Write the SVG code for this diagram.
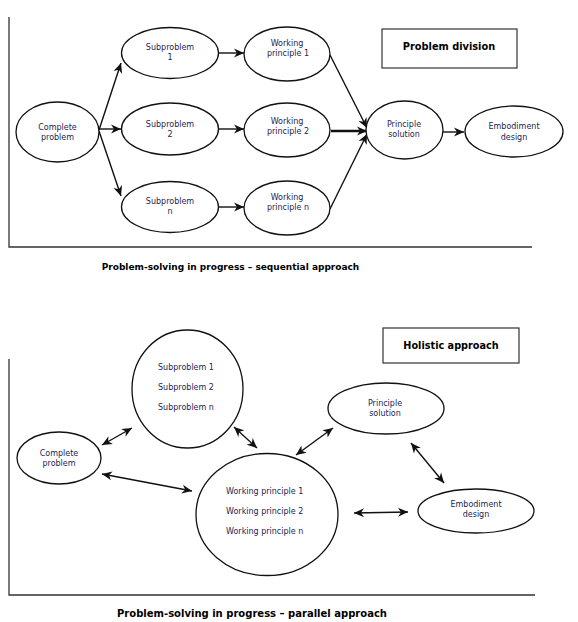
<svg xmlns="http://www.w3.org/2000/svg" width="578" height="622" viewBox="0 0 578 622">
<defs>
<marker id="ah" markerUnits="userSpaceOnUse" markerWidth="11" markerHeight="10" refX="10" refY="4.5" orient="auto-start-reverse" viewBox="0 0 11 9">
<path d="M0,0 L10,4.5 L0,9 L3,4.5 z" fill="#111"/>
</marker>
</defs>
<style>
.n{fill:#fff;stroke:#111;stroke-width:1.3}
.t{font-family:"DejaVu Sans",Verdana,sans-serif;font-size:8px;fill:#1c2452;text-anchor:middle}
.ts{font-family:"DejaVu Sans",Verdana,sans-serif;font-size:8px;fill:#1c2452}
.b{font-family:"DejaVu Sans",Verdana,sans-serif;font-weight:bold;fill:#000;text-anchor:middle}
.ax{fill:none;stroke:#333;stroke-width:1.3}
.c{fill:none;stroke:#111;stroke-width:1.4;marker-end:url(#ah)}
.d{fill:none;stroke:#111;stroke-width:1.4;marker-end:url(#ah);marker-start:url(#ah)}
.box{fill:#fff;stroke:#333;stroke-width:1.2}
</style>
<rect width="578" height="622" fill="#fff"/>

<g id="axes">
<path class="ax" d="M9,17 V247 H532"/>
<path class="ax" d="M9,359 V595 H535"/>
</g>

<g id="connectors">
<line class="c" x1="99" y1="130" x2="121" y2="63"/>
<line class="c" x1="99" y1="129" x2="121" y2="129"/>
<line class="c" x1="99" y1="131" x2="121" y2="196"/>
<line class="c" x1="218" y1="53" x2="244" y2="53"/>
<line class="c" x1="218" y1="129" x2="244" y2="129"/>
<line class="c" x1="218" y1="207" x2="244" y2="207"/>
<line class="c" x1="330" y1="55" x2="367" y2="128"/>
<line class="c" x1="331" y1="131" x2="367" y2="131" style="stroke-width:2.6"/>
<line class="c" x1="330" y1="209" x2="367" y2="134"/>
<line class="c" x1="443" y1="132" x2="464" y2="132"/>

<line class="d" x1="102" y1="445" x2="132" y2="428"/>
<line class="d" x1="102" y1="474" x2="192" y2="491"/>
<line class="d" x1="234" y1="427" x2="257" y2="448"/>
<line class="d" x1="296" y1="455" x2="333" y2="428"/>
<line class="d" x1="411" y1="443" x2="444" y2="483"/>
<line class="d" x1="354" y1="513" x2="408" y2="512"/>
</g>

<g id="problem-division">
<rect class="box" x="382" y="29" width="135" height="39"/>
<text class="b" x="449" y="50" font-size="9.8">Problem  division</text>
</g>

<g id="complete-problem-1">
<ellipse class="n" cx="57.5" cy="132" rx="41.5" ry="30"/>
<text class="t" x="57.5" y="130">Complete</text>
<text class="t" x="57.5" y="140">problem</text>
</g>
<g id="subproblem-1">
<ellipse class="n" cx="170" cy="53" rx="48.5" ry="25.5"/>
<text class="t" x="170" y="50">Subproblem</text>
<text class="t" x="170" y="60">1</text>
</g>
<g id="subproblem-2">
<ellipse class="n" cx="170" cy="129" rx="48.5" ry="26"/>
<text class="t" x="170" y="127">Subproblem</text>
<text class="t" x="170" y="137">2</text>
</g>
<g id="subproblem-n">
<ellipse class="n" cx="170" cy="207" rx="48.5" ry="25.5"/>
<text class="t" x="170" y="204">Subproblem</text>
<text class="t" x="170" y="214">n</text>
</g>
<g id="working-principle-1">
<ellipse class="n" cx="287" cy="54" rx="43" ry="27"/>
<text class="t" x="287" y="46">Working</text>
<text class="t" x="288" y="56">principle 1</text>
</g>
<g id="working-principle-2">
<ellipse class="n" cx="287" cy="130" rx="43" ry="27"/>
<text class="t" x="287" y="124">Working</text>
<text class="t" x="288" y="134">principle 2</text>
</g>
<g id="working-principle-n">
<ellipse class="n" cx="287" cy="208" rx="43" ry="27"/>
<text class="t" x="287" y="200">Working</text>
<text class="t" x="288" y="210">principle n</text>
</g>
<g id="principle-solution-1">
<ellipse class="n" cx="404.5" cy="130" rx="38.5" ry="29"/>
<text class="t" x="404" y="127">Principle</text>
<text class="t" x="404" y="137">solution</text>
</g>
<g id="embodiment-design-1">
<ellipse class="n" cx="514" cy="131.5" rx="49" ry="25.5"/>
<text class="t" x="514" y="129">Embodiment</text>
<text class="t" x="514" y="140">design</text>
</g>

<text class="b" x="230.5" y="269.5" font-size="9">Problem-solving in progress – sequential approach</text>

<g id="holistic-approach">
<rect class="box" x="383" y="328" width="136" height="35"/>
<text class="b" x="451" y="349" font-size="9.7">Holistic approach</text>
</g>

<g id="subproblems">
<ellipse class="n" cx="187.5" cy="389" rx="55.5" ry="59"/>
<text class="ts" x="158" y="370">Subproblem 1</text>
<text class="ts" x="158" y="390">Subproblem 2</text>
<text class="ts" x="158" y="410">Subproblem n</text>
</g>
<g id="complete-problem-2">
<ellipse class="n" cx="59" cy="458" rx="42" ry="26"/>
<text class="t" x="59" y="456">Complete</text>
<text class="t" x="59" y="466">problem</text>
</g>
<g id="working-principles">
<ellipse class="n" cx="267" cy="514.5" rx="71" ry="61"/>
<text class="ts" x="226" y="494">Working principle 1</text>
<text class="ts" x="226" y="514">Working principle 2</text>
<text class="ts" x="226" y="534">Working principle n</text>
</g>
<g id="principle-solution-2">
<ellipse class="n" cx="386" cy="408.5" rx="58" ry="25.5"/>
<text class="t" x="385" y="406">Principle</text>
<text class="t" x="385" y="416">solution</text>
</g>
<g id="embodiment-design-2">
<ellipse class="n" cx="476" cy="511" rx="58" ry="22"/>
<text class="t" x="476" y="507">Embodiment</text>
<text class="t" x="476" y="517">design</text>
</g>

<text class="b" x="252" y="617" font-size="10" textLength="270" lengthAdjust="spacingAndGlyphs">Problem-solving in progress – parallel approach</text>
</svg>
